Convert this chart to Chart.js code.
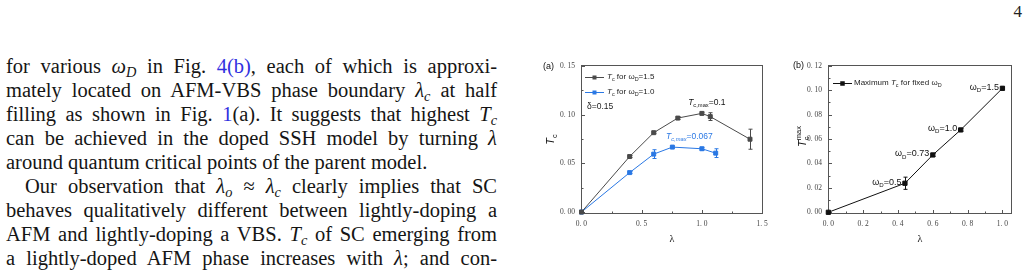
<!DOCTYPE html>
<html>
<head>
<meta charset="utf-8">
<script src="https://cdn.jsdelivr.net/npm/chart.js@4/dist/chart.umd.min.js"></script>
<style>
  body { margin: 0; width: 1028px; height: 276px; overflow: hidden; background: #fff; position: relative; }
  #page { position: absolute; right: 6px; top: 2px; font: 17px "Liberation Serif", serif; color: #222; }
  #text { position: absolute; left: 6px; top: 54px; width: 491px; font: 20.5px "Liberation Serif", serif; line-height: 24px; color: #151515; }
  #text div { white-space: nowrap; text-align: justify; text-align-last: justify; }
  #text div.last { text-align-last: left; }
  #text div.ind { padding-left: 19px; }
  #text sub { font-size: 70%; vertical-align: -0.25em; line-height: 0; }
  #text a { color: #3030e0; text-decoration: none; }
  canvas { position: absolute; }
  #chartA { left: 520px; top: 50px; }
  #chartB { left: 770px; top: 50px; }
</style>
</head>
<body>
<div id="page">4</div>
<div id="text">
  <div>for various <i>ω</i><sub><i>D</i></sub> in Fig. <a>4(b)</a>, each of which is approxi-</div>
  <div>mately located on AFM-VBS phase boundary <i>λ</i><sub><i>c</i></sub> at half</div>
  <div>filling as shown in Fig. <a>1</a>(a). It suggests that highest <i>T</i><sub><i>c</i></sub></div>
  <div>can be achieved in the doped SSH model by turning <i>λ</i></div>
  <div class="last">around quantum critical points of the parent model.</div>
  <div class="ind">Our observation that <i>λ</i><sub><i>o</i></sub> ≈ <i>λ</i><sub><i>c</i></sub> clearly implies that SC</div>
  <div>behaves qualitatively different between lightly-doping a</div>
  <div>AFM and lightly-doping a VBS. <i>T</i><sub><i>c</i></sub> of SC emerging from</div>
  <div>a lightly-doped AFM phase increases with <i>λ</i>; and con-</div>
</div>
<canvas id="chartA" width="260" height="210"></canvas>
<canvas id="chartB" width="258" height="210"></canvas>
<script>
// ---- DATA ----
// (a) Tc vs lambda, delta = 0.15
const lamA15 = [0, 0.4, 0.6, 0.8, 1.0, 1.07, 1.4];
const tcA15 = [0, 0.057, 0.0815, 0.0965, 0.1013, 0.098, 0.0748];
const errA15 = [0.0008, 0.001, 0.001, 0.0015, 0.0012, 0.004, 0.0103];
const lamA10 = [0, 0.4, 0.6, 0.755, 1.0, 1.115];
const tcA10 = [0, 0.0405, 0.0595, 0.0667, 0.065, 0.0605];
const errA10 = [0.0008, 0.001, 0.0045, 0.001, 0.0015, 0.0045];
const xTicksA = [0, 0.5, 1.0, 1.5];
const xLabelsA = ['0. 0', '0. 5', '1. 0', '1. 5'];
const xMinorA = [0.25, 0.75, 1.25];
const yTicksA = [0, 0.05, 0.10, 0.15];
const yLabelsA = ['0. 00', '0. 05', '0. 10', '0. 15'];
const yMinorA = [0.025, 0.075, 0.125];

// (b) maximum Tc for fixed omega_D
const lamB = [0, 0.44, 0.6, 0.76, 1.0];
const tcB = [0, 0.0238, 0.047, 0.0675, 0.1016];
const errB = [0.0006, 0.005, 0.0012, 0.001, 0.0012];
const omegaB = ['', '0.5', '0.73', '1.0', '1.5'];
const xTicksB = [0, 0.2, 0.4, 0.6, 0.8, 1.0];
const xLabelsB = ['0. 0', '0. 2', '0. 4', '0. 6', '0. 8', '1. 0'];
const xMinorB = [0.1, 0.3, 0.5, 0.7, 0.9];
const yTicksB = [0, 0.02, 0.04, 0.06, 0.08, 0.10, 0.12];
const yLabelsB = ['0. 00', '0. 02', '0. 04', '0. 06', '0. 08', '0. 10', '0. 12'];
const yMinorB = [0.01, 0.03, 0.05, 0.07, 0.09, 0.11];

const GREY = '#4a4a4a';
const BLUE = '#2a78e4';
const AXIS = '#555';
const SANS = '"Liberation Sans", Arial, sans-serif';
const SERIF = '"Liberation Serif", serif';

// ---- HELPERS ----
// segs: [text, mode]; mode flags: i = italic, b = subscript, p = superscript, k = keep x (stack)
function rich(ctx, segs, x, y, size, family, align, color) {
  const parts = segs.map(([t, m]) => {
    const small = m.includes('b') || m.includes('p');
    const fs = small ? size * 0.68 : size;
    const font = (m.includes('i') ? 'italic ' : '') + fs + 'px ' + family;
    ctx.font = font;
    const w = ctx.measureText(t).width;
    return { t, font, w, adv: m.includes('k') ? 0 : w,
      dy: m.includes('b') ? size * 0.32 : m.includes('p') ? -size * 0.38 : 0 };
  });
  const total = parts.reduce((s, p) => s + p.adv, 0) + (parts.length ? parts[parts.length - 1].w - parts[parts.length - 1].adv : 0);
  let cx = align === 'right' ? x - total : align === 'center' ? x - total / 2 : x;
  ctx.fillStyle = color;
  ctx.textBaseline = 'middle';
  ctx.textAlign = 'left';
  parts.forEach(p => { ctx.font = p.font; ctx.fillText(p.t, cx, y + p.dy); cx += p.adv; });
}

function square(ctx, x, y, s, color) {
  ctx.fillStyle = color;
  ctx.fillRect(x - s / 2, y - s / 2, s, s);
}

function toPoints(xs, ys) {
  return xs.map((v, i) => ({ x: v, y: ys[i] }));
}

function decoPlugin(cfg) {
  return {
    id: 'deco',
    beforeDatasetsDraw(chart) {
      const { ctx, chartArea: a, scales: { x, y } } = chart;
      ctx.save();
      ctx.strokeStyle = AXIS;
      ctx.lineWidth = 1;
      ctx.strokeRect(a.left + 0.5, a.top + 0.5, a.width - 1, a.height - 1);
      ctx.beginPath();
      cfg.xMajor.forEach(v => { const p = Math.round(x.getPixelForValue(v)) + 0.5; ctx.moveTo(p, a.bottom); ctx.lineTo(p, a.bottom - 4); });
      cfg.xMinor.forEach(v => { const p = Math.round(x.getPixelForValue(v)) + 0.5; ctx.moveTo(p, a.bottom); ctx.lineTo(p, a.bottom - 2.5); });
      cfg.yMajor.forEach(v => { const p = Math.round(y.getPixelForValue(v)) + 0.5; ctx.moveTo(a.left, p); ctx.lineTo(a.left + 4, p); });
      cfg.yMinor.forEach(v => { const p = Math.round(y.getPixelForValue(v)) + 0.5; ctx.moveTo(a.left, p); ctx.lineTo(a.left + 2.5, p); });
      ctx.stroke();
      // error bars
      cfg.err.forEach((errs, di) => {
        const ds = chart.data.datasets[di];
        ctx.strokeStyle = ds.borderColor;
        ctx.beginPath();
        ds.data.forEach((pt, i) => {
          const e = errs[i];
          if (!e) return;
          const px = Math.round(x.getPixelForValue(pt.x)) + 0.5;
          const y1 = y.getPixelForValue(pt.y - e), y2 = y.getPixelForValue(pt.y + e);
          ctx.moveTo(px, y1); ctx.lineTo(px, y2);
          ctx.moveTo(px - 2, y1); ctx.lineTo(px + 2, y1);
          ctx.moveTo(px - 2, y2); ctx.lineTo(px + 2, y2);
        });
        ctx.stroke();
      });
      ctx.restore();
    },
    afterDraw(chart) {
      chart.ctx.save();
      cfg.labels(chart);
      chart.ctx.restore();
    }
  };
}

function baseOptions(xr, yr, xTicks, xLabels, yTicks, yLabels, yw, padRight) {
  const tickFont = { family: SERIF, size: 7.5 };
  return {
    responsive: false,
    animation: false,
    devicePixelRatio: 1,
    layout: { padding: { top: 15, right: padRight, left: 0, bottom: 0 } },
    plugins: { legend: { display: false }, tooltip: { enabled: false } },
    scales: {
      x: {
        type: 'linear', min: xr[0], max: xr[1],
        grid: { display: false, drawTicks: false }, border: { display: false },
        afterBuildTicks: s => { s.ticks = xTicks.map(v => ({ value: v })); },
        afterFit: s => { s.height = 46; },
        ticks: { font: tickFont, color: '#444', padding: 6, maxRotation: 0, autoSkip: false,
          callback: (v) => xLabels[xTicks.indexOf(v)] }
      },
      y: {
        type: 'linear', min: yr[0], max: yr[1],
        grid: { display: false, drawTicks: false }, border: { display: false },
        afterBuildTicks: s => { s.ticks = yTicks.map(v => ({ value: v })); },
        afterFit: s => { s.width = yw; },
        ticks: { font: tickFont, color: '#444', padding: 6, autoSkip: false,
          callback: (v) => yLabels[yTicks.indexOf(v)] }
      }
    }
  };
}

// ---- CHART (a) ----
function initChartA() {
  const canvas = document.getElementById('chartA');
  const opts = baseOptions([-0.004, 1.508], [-0.002, 0.151], xTicksA, xLabelsA, yTicksA, yLabelsA, 61, 17);
  new Chart(canvas, {
    type: 'line',
    data: {
      datasets: [
        { data: toPoints(lamA15, tcA15), borderColor: GREY, backgroundColor: GREY, borderWidth: 1,
          pointStyle: 'rect', pointRadius: 2.8, tension: 0, clip: false },
        { data: toPoints(lamA10, tcA10), borderColor: BLUE, backgroundColor: BLUE, borderWidth: 1,
          pointStyle: 'rect', pointRadius: 2.8, tension: 0, clip: false }
      ]
    },
    options: opts,
    plugins: [decoPlugin({
      xMajor: xTicksA, xMinor: xMinorA, yMajor: yTicksA, yMinor: yMinorA, err: [errA15, errA10],
      labels(chart) {
        const { ctx, chartArea: a, scales: { x, y } } = chart;
        // panel tag
        rich(ctx, [['(a)', '']], a.left - 38, a.top + 2, 9, SANS, 'left', '#111');
        // y title
        ctx.save();
        ctx.translate(a.left - 30, (a.top + a.bottom) / 2);
        ctx.rotate(-Math.PI / 2);
        rich(ctx, [['T', 'i'], ['c', 'b']], 0, 0, 11, SANS, 'center', '#111');
        ctx.restore();
        // x title
        rich(ctx, [['λ', '']], (a.left + a.right) / 2, a.bottom + 25, 10, SERIF, 'center', '#111');
        // legend
        [[GREY, '1.5', 12], [BLUE, '1.0', 27]].forEach(([c, w, dy]) => {
          const ly = a.top + dy;
          ctx.strokeStyle = c; ctx.lineWidth = 1;
          ctx.beginPath(); ctx.moveTo(a.left + 4, ly + 0.5); ctx.lineTo(a.left + 23, ly + 0.5); ctx.stroke();
          square(ctx, a.left + 13.5, ly + 0.5, 4, c);
          rich(ctx, [['T', 'i'], ['c', 'b'], [' for ', ''], ['ω', ''], ['D', 'b'], ['=' + w, '']], a.left + 26, ly, 8, SANS, 'left', '#222');
        });
        rich(ctx, [['δ=0.15', '']], a.left + 6, a.top + 42, 8.5, SANS, 'left', '#222');
        // max annotations
        const i15 = tcA15.indexOf(Math.max(...tcA15));
        const i10 = tcA10.indexOf(Math.max(...tcA10));
        rich(ctx, [['T', 'i'], ['c,max', 'b'], ['=0.1', '']],
          x.getPixelForValue(lamA15[i15]) + 5, y.getPixelForValue(tcA15[i15]) - 11, 8.5, SANS, 'center', '#111');
        rich(ctx, [['T', 'i'], ['c,max', 'bi'], ['=0.067', '']],
          x.getPixelForValue(lamA10[i10]) + 17, y.getPixelForValue(tcA10[i10]) - 10, 8.5, SANS, 'center', BLUE);
      }
    })]
  });
}

// ---- CHART (b) ----
function initChartB() {
  const canvas = document.getElementById('chartB');
  const opts = baseOptions([-0.002, 1.055], [-0.0014, 0.1207], xTicksB, xLabelsB, yTicksB, yLabelsB, 58, 16);
  new Chart(canvas, {
    type: 'line',
    data: {
      datasets: [
        { data: toPoints(lamB, tcB), borderColor: '#111', backgroundColor: '#111', borderWidth: 1,
          pointStyle: 'rect', pointRadius: 3, tension: 0, clip: false }
      ]
    },
    options: opts,
    plugins: [decoPlugin({
      xMajor: xTicksB, xMinor: xMinorB, yMajor: yTicksB, yMinor: yMinorB, err: [errB],
      labels(chart) {
        const { ctx, chartArea: a, scales: { x, y } } = chart;
        rich(ctx, [['(b)', '']], a.left - 35, a.top + 1, 9, SANS, 'left', '#111');
        ctx.save();
        ctx.translate(a.left - 25, (a.top + a.bottom) / 2 - 3);
        ctx.rotate(-Math.PI / 2);
        rich(ctx, [['T', 'i'], ['c', 'bk'], ['max', 'p']], 0, 0, 11, SANS, 'center', '#111');
        ctx.restore();
        rich(ctx, [['λ', '']], (a.left + a.right) / 2, a.bottom + 25, 10, SERIF, 'center', '#111');
        // legend
        const ly = a.top + 18;
        ctx.strokeStyle = '#111'; ctx.lineWidth = 1;
        ctx.beginPath(); ctx.moveTo(a.left + 5, ly + 0.5); ctx.lineTo(a.left + 24, ly + 0.5); ctx.stroke();
        square(ctx, a.left + 14.5, ly + 0.5, 4.5, '#111');
        rich(ctx, [['Maximum ', ''], ['T', 'i'], ['c', 'b'], [' for fixed ', ''], ['ω', ''], ['D', 'b']], a.left + 26, ly, 8, SANS, 'left', '#222');
        // omega labels
        omegaB.forEach((w, i) => {
          if (!w) return;
          rich(ctx, [['ω', ''], ['D', 'b'], ['=' + w, '']],
            x.getPixelForValue(lamB[i]) - 3.5, y.getPixelForValue(tcB[i]) - 1, 9, SANS, 'right', '#111');
        });
      }
    })]
  });
}

document.addEventListener('DOMContentLoaded', () => {
  initChartA();
  initChartB();
});
</script>
</body>
</html>
